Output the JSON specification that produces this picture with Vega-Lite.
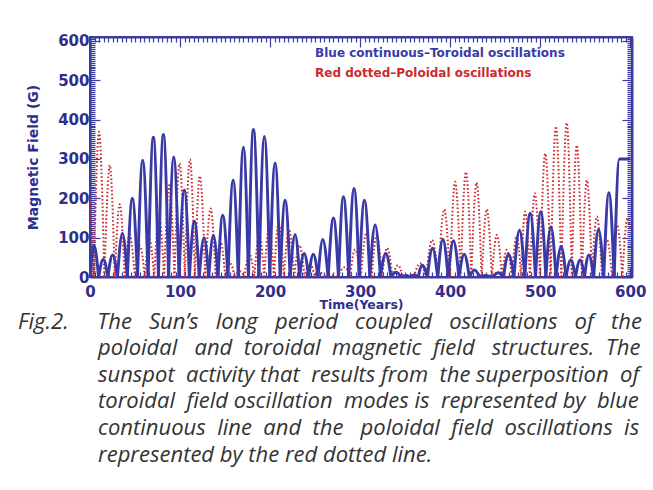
{
  "$schema": "https://vega.github.io/schema/vega-lite/v6.json",
  "width": 542,
  "height": 240,
  "autosize": {"type": "none"},
  "padding": {"left": 90, "top": 37, "right": 21, "bottom": 213},
  "background": "white",
  "config": {
    "view": {"stroke": "#3b3ba0", "strokeWidth": 2},
    "axis": {
      "grid": false,
      "domainColor": "#3b3ba0",
      "domainWidth": 2,
      "tickColor": "#3b3ba0",
      "tickWidth": 1.2,
      "labelFont": "DejaVu Sans",
      "labelFontWeight": "bold",
      "labelFontSize": 15,
      "labelColor": "#2e2e8c",
      "labelOverlap": false,
      "labelFlush": false,
      "labelBound": false,
      "titleFont": "DejaVu Sans",
      "titleFontWeight": "bold",
      "titleColor": "#2e2e8c"
    }
  },
  "title": {
    "text": [
      "Fig.2.\u00a0\u00a0\u00a0\u00a0\u00a0The \u00a0\u00a0Sun’s \u00a0\u00a0long \u00a0\u00a0period \u00a0\u00a0coupled \u00a0\u00a0oscillations \u00a0\u00a0of \u00a0\u00a0the",
      "\u200b\u00a0\u00a0\u00a0\u00a0\u00a0\u00a0\u00a0\u00a0\u00a0\u00a0\u00a0\u00a0\u00a0\u00a0poloidal \u00a0\u00a0and \u00a0toroidal \u00a0magnetic \u00a0field \u00a0\u00a0structures. \u00a0The",
      "\u200b\u00a0\u00a0\u00a0\u00a0\u00a0\u00a0\u00a0\u00a0\u00a0\u00a0\u00a0\u00a0\u00a0\u00a0sunspot \u00a0activity that \u00a0results from \u00a0the superposition \u00a0of",
      "\u200b\u00a0\u00a0\u00a0\u00a0\u00a0\u00a0\u00a0\u00a0\u00a0\u00a0\u00a0\u00a0\u00a0\u00a0toroidal \u00a0field oscillation \u00a0modes is \u00a0represented by \u00a0blue",
      "\u200b\u00a0\u00a0\u00a0\u00a0\u00a0\u00a0\u00a0\u00a0\u00a0\u00a0\u00a0\u00a0\u00a0\u00a0continuous \u00a0line \u00a0and \u00a0the \u00a0\u00a0poloidal \u00a0field \u00a0oscillations \u00a0is",
      "\u200b\u00a0\u00a0\u00a0\u00a0\u00a0\u00a0\u00a0\u00a0\u00a0\u00a0\u00a0\u00a0\u00a0\u00a0represented by the red dotted line."
    ],
    "orient": "bottom",
    "anchor": "start",
    "frame": "group",
    "dx": -72,
    "offset": 1,
    "font": "Open Sans",
    "fontStyle": "italic",
    "fontWeight": "normal",
    "fontSize": 22,
    "lineHeight": 26.6,
    "color": "#333333",
    "baseline": "top"
  },
  "datasets": {
    "tor": [
      {"g":1,"t":0,"v":0},{"g":1,"t":4.4,"v":80},{"g":1,"t":9.6,"v":0},
      {"g":2,"t":9.6,"v":0},{"g":2,"t":14.8,"v":45},{"g":2,"t":19.9,"v":0},
      {"g":3,"t":19.9,"v":0},{"g":3,"t":25,"v":56},{"g":3,"t":30.5,"v":0},
      {"g":4,"t":30.5,"v":0},{"g":4,"t":36,"v":111},{"g":4,"t":41.5,"v":0},
      {"g":5,"t":41.5,"v":0},{"g":5,"t":47,"v":200},{"g":5,"t":52.8,"v":0},
      {"g":6,"t":52.8,"v":0},{"g":6,"t":58.5,"v":297},{"g":6,"t":64.5,"v":0},
      {"g":7,"t":64.5,"v":0},{"g":7,"t":70.4,"v":355},{"g":7,"t":76,"v":0},
      {"g":8,"t":76,"v":0},{"g":8,"t":81.5,"v":362},{"g":8,"t":87.3,"v":0},
      {"g":9,"t":87.3,"v":0},{"g":9,"t":93,"v":305},{"g":9,"t":98.9,"v":0},
      {"g":10,"t":98.9,"v":0},{"g":10,"t":104.8,"v":221},{"g":10,"t":110.4,"v":0},
      {"g":11,"t":110.4,"v":0},{"g":11,"t":115.9,"v":142},{"g":11,"t":121.3,"v":0},
      {"g":12,"t":121.3,"v":0},{"g":12,"t":126.7,"v":100},{"g":12,"t":131.9,"v":0},
      {"g":13,"t":131.9,"v":0},{"g":13,"t":137,"v":106},{"g":13,"t":142.2,"v":0},
      {"g":14,"t":142.2,"v":0},{"g":14,"t":147.4,"v":157},{"g":14,"t":153.2,"v":0},
      {"g":15,"t":153.2,"v":0},{"g":15,"t":159,"v":246},{"g":15,"t":164.7,"v":0},
      {"g":16,"t":164.7,"v":0},{"g":16,"t":170.4,"v":330},{"g":16,"t":176,"v":0},
      {"g":17,"t":176,"v":0},{"g":17,"t":181.5,"v":375},{"g":17,"t":187.6,"v":0},
      {"g":18,"t":187.6,"v":0},{"g":18,"t":193.7,"v":357},{"g":18,"t":199.7,"v":0},
      {"g":19,"t":199.7,"v":0},{"g":19,"t":205.6,"v":290},{"g":19,"t":211.2,"v":0},
      {"g":20,"t":211.2,"v":0},{"g":20,"t":216.7,"v":195},{"g":20,"t":222.3,"v":0},
      {"g":21,"t":222.3,"v":0},{"g":21,"t":227.8,"v":108},{"g":21,"t":232.8,"v":0},
      {"g":22,"t":232.8,"v":0},{"g":22,"t":237.8,"v":60},{"g":22,"t":242.9,"v":0},
      {"g":23,"t":242.9,"v":0},{"g":23,"t":248,"v":58},{"g":23,"t":253.3,"v":0},
      {"g":24,"t":253.3,"v":0},{"g":24,"t":258.5,"v":95},{"g":24,"t":264.5,"v":0},
      {"g":25,"t":264.5,"v":0},{"g":25,"t":270.4,"v":150},{"g":25,"t":276,"v":0},
      {"g":26,"t":276,"v":0},{"g":26,"t":281.5,"v":204},{"g":26,"t":287.4,"v":0},
      {"g":27,"t":287.4,"v":0},{"g":27,"t":293.3,"v":225},{"g":27,"t":299,"v":0},
      {"g":28,"t":299,"v":0},{"g":28,"t":304.8,"v":195},{"g":28,"t":310.8,"v":0},
      {"g":29,"t":310.8,"v":0},{"g":29,"t":316.7,"v":132},{"g":29,"t":322.6,"v":0},
      {"g":30,"t":322.6,"v":0},{"g":30,"t":328.5,"v":60},{"g":30,"t":334.3,"v":0},
      {"g":31,"t":334.3,"v":0},{"g":31,"t":340,"v":12},{"g":31,"t":345.5,"v":0},
      {"g":32,"t":345.5,"v":0},{"g":32,"t":351,"v":4},{"g":32,"t":355.5,"v":0},
      {"g":33,"t":355.5,"v":0},{"g":33,"t":360,"v":5},{"g":33,"t":364.5,"v":0},
      {"g":34,"t":364.5,"v":0},{"g":34,"t":369,"v":30},{"g":34,"t":374.7,"v":0},
      {"g":35,"t":374.7,"v":0},{"g":35,"t":380.4,"v":73},{"g":35,"t":386.2,"v":0},
      {"g":36,"t":386.2,"v":0},{"g":36,"t":391.9,"v":96},{"g":36,"t":397.8,"v":0},
      {"g":37,"t":397.8,"v":0},{"g":37,"t":403.7,"v":92},{"g":37,"t":409.7,"v":0},
      {"g":38,"t":409.7,"v":0},{"g":38,"t":415.6,"v":58},{"g":38,"t":421.3,"v":0},
      {"g":39,"t":421.3,"v":0},{"g":39,"t":427,"v":18},{"g":39,"t":433,"v":0},
      {"g":40,"t":433,"v":0},{"g":40,"t":439,"v":4},{"g":40,"t":446.4,"v":0},
      {"g":41,"t":446.4,"v":0},{"g":41,"t":453.7,"v":11},{"g":41,"t":459.3,"v":0},
      {"g":42,"t":459.3,"v":0},{"g":42,"t":464.8,"v":58},{"g":42,"t":470.9,"v":0},
      {"g":43,"t":470.9,"v":0},{"g":43,"t":477,"v":119},{"g":43,"t":483,"v":0},
      {"g":44,"t":483,"v":0},{"g":44,"t":488.9,"v":162},{"g":44,"t":494.8,"v":0},
      {"g":45,"t":494.8,"v":0},{"g":45,"t":500.7,"v":166},{"g":45,"t":506.3,"v":0},
      {"g":46,"t":506.3,"v":0},{"g":46,"t":511.9,"v":128},{"g":46,"t":517.6,"v":0},
      {"g":47,"t":517.6,"v":0},{"g":47,"t":523.3,"v":77},{"g":47,"t":528.7,"v":0},
      {"g":48,"t":528.7,"v":0},{"g":48,"t":534,"v":43},{"g":48,"t":539.2,"v":0},
      {"g":49,"t":539.2,"v":0},{"g":49,"t":544.4,"v":43},{"g":49,"t":549.2,"v":0},
      {"g":50,"t":549.2,"v":0},{"g":50,"t":554,"v":56},{"g":50,"t":559.4,"v":0},
      {"g":51,"t":559.4,"v":0},{"g":51,"t":564.8,"v":121},{"g":51,"t":570.6,"v":0},
      {"g":52,"t":570.6,"v":0},{"g":52,"t":576.3,"v":214},{"g":52,"t":582.2,"v":0},
      {"g":53,"t":582.2,"v":0},{"g":53,"t":588,"v":300},{"g":53,"t":600,"v":300}
    ],
    "pol": [
      {"g":0,"t":0,"v":200},{"g":0,"t":4.2,"v":0},
      {"g":1,"t":4.2,"v":0},{"g":1,"t":10,"v":369},{"g":1,"t":16,"v":0},
      {"g":2,"t":16,"v":0},{"g":2,"t":22,"v":284},{"g":2,"t":27.5,"v":0},
      {"g":3,"t":27.5,"v":0},{"g":3,"t":33,"v":185},{"g":3,"t":38.5,"v":0},
      {"g":4,"t":38.5,"v":0},{"g":4,"t":44,"v":107},{"g":4,"t":49.8,"v":0},
      {"g":5,"t":49.8,"v":0},{"g":5,"t":55.6,"v":79},{"g":5,"t":60.8,"v":0},
      {"g":6,"t":60.8,"v":0},{"g":6,"t":66,"v":96},{"g":6,"t":71.3,"v":0},
      {"g":7,"t":71.3,"v":0},{"g":7,"t":76.5,"v":155},{"g":7,"t":82.3,"v":0},
      {"g":8,"t":82.3,"v":0},{"g":8,"t":88,"v":233},{"g":8,"t":93.8,"v":0},
      {"g":9,"t":93.8,"v":0},{"g":9,"t":99.5,"v":289},{"g":9,"t":105.3,"v":0},
      {"g":10,"t":105.3,"v":0},{"g":10,"t":111,"v":299},{"g":10,"t":116.5,"v":0},
      {"g":11,"t":116.5,"v":0},{"g":11,"t":122,"v":257},{"g":11,"t":128,"v":0},
      {"g":12,"t":128,"v":0},{"g":12,"t":134,"v":174},{"g":12,"t":139.5,"v":0},
      {"g":13,"t":139.5,"v":0},{"g":13,"t":145,"v":90},{"g":13,"t":150.3,"v":0},
      {"g":14,"t":150.3,"v":0},{"g":14,"t":155.6,"v":35},{"g":14,"t":160.8,"v":0},
      {"g":15,"t":160.8,"v":0},{"g":15,"t":166,"v":15},{"g":15,"t":171.5,"v":0},
      {"g":16,"t":171.5,"v":0},{"g":16,"t":177,"v":60},{"g":16,"t":182.5,"v":0},
      {"g":17,"t":182.5,"v":0},{"g":17,"t":188,"v":107},{"g":17,"t":193.5,"v":0},
      {"g":18,"t":193.5,"v":0},{"g":18,"t":199,"v":127},{"g":18,"t":204.3,"v":0},
      {"g":19,"t":204.3,"v":0},{"g":19,"t":209.5,"v":135},{"g":19,"t":215.3,"v":0},
      {"g":20,"t":215.3,"v":0},{"g":20,"t":221,"v":121},{"g":20,"t":226.8,"v":0},
      {"g":21,"t":226.8,"v":0},{"g":21,"t":232.5,"v":81},{"g":21,"t":238.3,"v":0},
      {"g":22,"t":238.3,"v":0},{"g":22,"t":244,"v":35},{"g":22,"t":249.8,"v":0},
      {"g":23,"t":249.8,"v":0},{"g":23,"t":255.5,"v":11},{"g":23,"t":260.8,"v":0},
      {"g":24,"t":260.8,"v":0},{"g":24,"t":266,"v":5},{"g":24,"t":274.5,"v":0},
      {"g":25,"t":274.5,"v":0},{"g":25,"t":283,"v":25},{"g":25,"t":288.8,"v":0},
      {"g":26,"t":288.8,"v":0},{"g":26,"t":294.5,"v":70},{"g":26,"t":300.8,"v":0},
      {"g":27,"t":300.8,"v":0},{"g":27,"t":307,"v":112},{"g":27,"t":312.8,"v":0},
      {"g":28,"t":312.8,"v":0},{"g":28,"t":318.5,"v":107},{"g":28,"t":324.3,"v":0},
      {"g":29,"t":324.3,"v":0},{"g":29,"t":330,"v":74},{"g":29,"t":336,"v":0},
      {"g":30,"t":336,"v":0},{"g":30,"t":342,"v":30},{"g":30,"t":347.5,"v":0},
      {"g":31,"t":347.5,"v":0},{"g":31,"t":353,"v":5},{"g":31,"t":359.8,"v":0},
      {"g":32,"t":359.8,"v":0},{"g":32,"t":366.5,"v":35},{"g":32,"t":373.3,"v":0},
      {"g":33,"t":373.3,"v":0},{"g":33,"t":380,"v":94},{"g":33,"t":386.8,"v":0},
      {"g":34,"t":386.8,"v":0},{"g":34,"t":393.5,"v":172},{"g":34,"t":399.6,"v":0},
      {"g":35,"t":399.6,"v":0},{"g":35,"t":405.6,"v":242},{"g":35,"t":411.6,"v":0},
      {"g":36,"t":411.6,"v":0},{"g":36,"t":417.6,"v":267},{"g":36,"t":423.5,"v":0},
      {"g":37,"t":423.5,"v":0},{"g":37,"t":429.3,"v":240},{"g":37,"t":435,"v":0},
      {"g":38,"t":435,"v":0},{"g":38,"t":440.7,"v":172},{"g":38,"t":446.3,"v":0},
      {"g":39,"t":446.3,"v":0},{"g":39,"t":451.9,"v":107},{"g":39,"t":457.5,"v":0},
      {"g":40,"t":457.5,"v":0},{"g":40,"t":463,"v":69},{"g":40,"t":468.5,"v":0},
      {"g":41,"t":468.5,"v":0},{"g":41,"t":474,"v":105},{"g":41,"t":478.7,"v":0},
      {"g":42,"t":478.7,"v":0},{"g":42,"t":483.3,"v":166},{"g":42,"t":488.7,"v":0},
      {"g":43,"t":488.7,"v":0},{"g":43,"t":494,"v":213},{"g":43,"t":499.8,"v":0},
      {"g":44,"t":499.8,"v":0},{"g":44,"t":505.6,"v":314},{"g":44,"t":511.6,"v":0},
      {"g":45,"t":511.6,"v":0},{"g":45,"t":517.5,"v":383},{"g":45,"t":523.5,"v":0},
      {"g":46,"t":523.5,"v":0},{"g":46,"t":529.5,"v":392},{"g":46,"t":535.1,"v":0},
      {"g":47,"t":535.1,"v":0},{"g":47,"t":540.7,"v":335},{"g":47,"t":546.3,"v":0},
      {"g":48,"t":546.3,"v":0},{"g":48,"t":551.9,"v":246},{"g":48,"t":557.5,"v":0},
      {"g":49,"t":557.5,"v":0},{"g":49,"t":563,"v":154},{"g":49,"t":568.7,"v":0},
      {"g":50,"t":568.7,"v":0},{"g":50,"t":574.3,"v":94},{"g":50,"t":579.9,"v":0},
      {"g":51,"t":579.9,"v":0},{"g":51,"t":585.5,"v":132},{"g":51,"t":591.3,"v":0},
      {"g":52,"t":591.3,"v":0},{"g":52,"t":597,"v":150},{"g":52,"t":600,"v":120}
    ],
    "notes": [{"x": 0}]
  },
  "resolve": {"axis": {"x": "independent", "y": "independent"}},
  "layer": [
    {
      "data": {"name": "pol"},
      "mark": {"type": "line", "interpolate": "monotone", "color": "#cc2a2e", "strokeWidth": 2, "strokeDash": [1.6, 2.2], "clip": true},
      "encoding": {
        "x": {"field": "t", "type": "quantitative", "scale": {"domain": [0, 602], "nice": false, "zero": false},
          "axis": {"orient": "bottom", "tickCount": 96, "tickSize": {"condition": {"test": "datum.value % 100 === 0", "value": -10}, "value": -5},
            "labelExpr": "datum.value % 100 === 0 ? datum.label : ''", "labelPadding": 17, "title": "Time(Years)", "titleFontSize": 12.5, "titlePadding": -6}},
        "y": {"field": "v", "type": "quantitative", "scale": {"domain": [0, 610], "nice": false, "zero": true},
          "axis": {"orient": "left", "tickCount": 97, "tickSize": {"condition": {"test": "datum.value % 100 === 0", "value": -10}, "value": -5},
            "labelExpr": "datum.value % 100 === 0 ? datum.label : ''", "labelPadding": 11, "title": "Magnetic Field (G)", "titleFontSize": 14, "titlePadding": 17}},
        "detail": {"field": "g", "type": "nominal"}
      }
    },
    {
      "data": {"name": "tor"},
      "mark": {"type": "line", "interpolate": "monotone", "color": "#3a3aa6", "strokeWidth": 3, "clip": true},
      "encoding": {
        "x": {"field": "t", "type": "quantitative",
          "axis": {"orient": "top", "tickCount": 96, "tickSize": {"condition": {"test": "datum.value % 100 === 0", "value": -10}, "value": -5}, "labels": false, "title": null}},
        "y": {"field": "v", "type": "quantitative",
          "axis": {"orient": "right", "tickCount": 97, "tickSize": {"condition": {"test": "datum.value % 100 === 0", "value": -10}, "value": -5}, "labels": false, "title": null}},
        "detail": {"field": "g", "type": "nominal"}
      }
    },
    {
      "data": {"name": "notes"},
      "mark": {"type": "text", "text": "Blue continuous–Toroidal oscillations", "align": "left", "baseline": "middle", "font": "DejaVu Sans", "fontWeight": "bold", "fontSize": 12, "color": "#3a3aa6"},
      "encoding": {
        "x": {"datum": 250, "type": "quantitative", "axis": null},
        "y": {"datum": 569, "type": "quantitative", "axis": null}
      }
    },
    {
      "data": {"name": "notes"},
      "mark": {"type": "text", "text": "Red dotted–Poloidal oscillations", "align": "left", "baseline": "middle", "font": "DejaVu Sans", "fontWeight": "bold", "fontSize": 12, "color": "#cc2a2e"},
      "encoding": {
        "x": {"datum": 250, "type": "quantitative", "axis": null},
        "y": {"datum": 518, "type": "quantitative", "axis": null}
      }
    }
  ]
}
